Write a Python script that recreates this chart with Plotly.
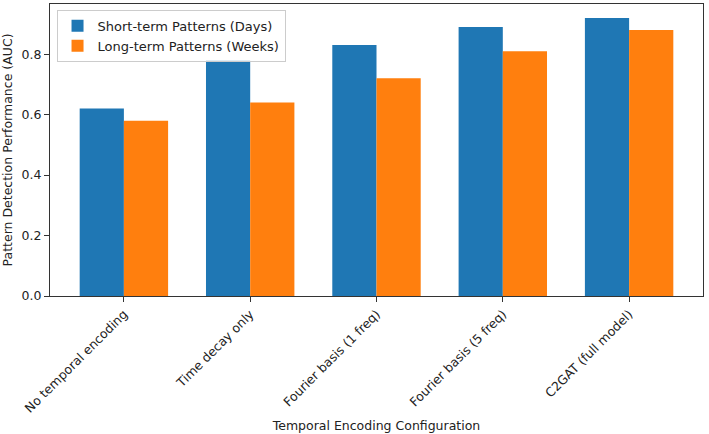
import plotly.graph_objects as go

categories = ["No temporal encoding", "Time decay only", "Fourier basis (1 freq)",
              "Fourier basis (5 freq)", "C2GAT (full model)"]
short_term = [0.62, 0.78, 0.83, 0.89, 0.92]
long_term = [0.58, 0.64, 0.72, 0.81, 0.88]
y_ticks = [0.0, 0.2, 0.4, 0.6, 0.8]

fig = go.Figure()
fig.add_trace(go.Bar(x=categories, y=short_term, name="Short-term Patterns (Days)",
                     marker=dict(color="#1f77b4", line=dict(width=0))))
fig.add_trace(go.Bar(x=categories, y=long_term, name="Long-term Patterns (Weeks)",
                     marker=dict(color="#ff7f0e", line=dict(width=0))))

font = "DejaVu Sans"
fig.update_layout(
    width=709, height=434,
    margin=dict(l=50, r=6, t=4, b=138),
    barmode="group", bargap=0.3, bargroupgap=0,
    plot_bgcolor="white", paper_bgcolor="white",
    font=dict(family=font, size=12.5, color="#222"),
    showlegend=True,
    legend=dict(x=0.01, y=0.98, xanchor="left", yanchor="top",
                bgcolor="rgba(255,255,255,0.8)", bordercolor="#cccccc", borderwidth=1,
                font=dict(size=13), tracegroupgap=0),
    xaxis=dict(
        type="category", range=[-0.585, 4.585], tickangle=-45,
        showline=True, linecolor="#333", linewidth=1, mirror=True,
        ticks="outside", ticklen=5, tickcolor="#333",
        title=dict(text="Temporal Encoding Configuration", font=dict(size=12.5), standoff=6),
        showgrid=False,
    ),
    yaxis=dict(
        range=[0, 0.966], tickvals=y_ticks, tickformat=".1f",
        showline=True, linecolor="#333", linewidth=1, mirror=True,
        ticks="outside", ticklen=5, tickcolor="#333",
        title=dict(text="Pattern Detection Performance (AUC)", font=dict(size=12.5), standoff=6),
        showgrid=False, zeroline=False,
    ),
)

fig.write_html("out.html")
